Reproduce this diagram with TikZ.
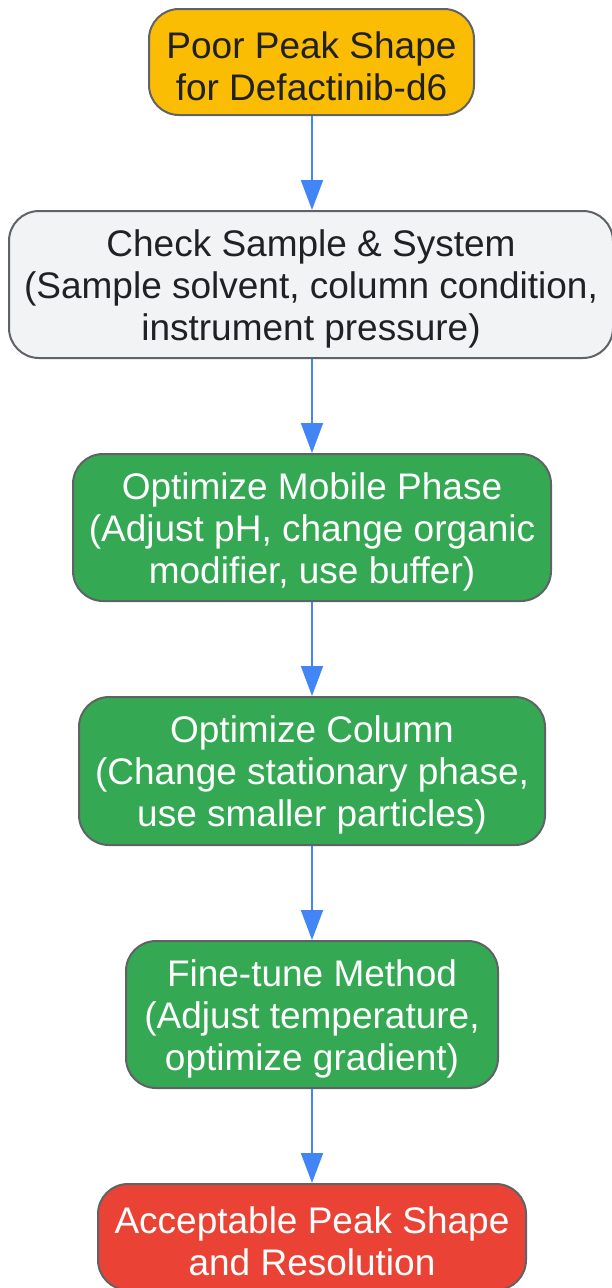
\documentclass[tikz,border=0pt]{standalone}
\usepackage{fontspec}
\setmainfont{Liberation Sans}
\usetikzlibrary{arrows.meta}
\definecolor{gborder}{HTML}{5F6368}
\definecolor{gyellow}{HTML}{FBBC04}
\definecolor{ggrey}{HTML}{F1F3F4}
\definecolor{ggreen}{HTML}{34A853}
\definecolor{gred}{HTML}{EA4335}
\definecolor{gblue}{HTML}{4285F4}
\definecolor{gtext}{HTML}{202124}
\newcommand{\lift}{\rule{0pt}{35pt}}
\tikzset{
  box/.style={draw=gborder, line width=2pt, rounded corners=30pt, align=center,
    inner sep=0pt, font=\fontsize{37}{42}\selectfont},
  flow/.style={draw=gblue, line width=2pt, -{Triangle[length=30pt,width=22pt]}}
}
\begin{document}
\begin{tikzpicture}[x=1pt,y=-1pt]
\useasboundingbox (0,0) rectangle (612,1288);
\node[box, fill=gyellow, text=gtext, minimum width=325pt, minimum height=106pt] (n1) at (311.5,62) {\lift Poor Peak Shape\\for Defactinib-d6};
\node[box, fill=ggrey, text=gtext, minimum width=604pt, minimum height=147pt] (n2) at (311,284.5) {\lift Check Sample \& System\\(Sample solvent, column condition,\\instrument pressure)};
\node[box, fill=ggreen, text=white, minimum width=478pt, minimum height=147pt] (n3) at (312,527.5) {\lift Optimize Mobile Phase\\(Adjust pH, change organic\\modifier, use buffer)};
\node[box, fill=ggreen, text=white, minimum width=466pt, minimum height=148pt] (n4) at (312,771) {\lift Optimize Column\\(Change stationary phase,\\use smaller particles)};
\node[box, fill=ggreen, text=white, minimum width=372pt, minimum height=147pt] (n5) at (312,1014.5) {\lift Fine-tune Method\\(Adjust temperature,\\optimize gradient)};
\node[box, fill=gred, text=white, minimum width=428pt, minimum height=106pt] (n6) at (312,1237) {\lift Acceptable Peak Shape\\and Resolution};
\draw[flow] (n1.south -| 312,0) -- (n2.north -| 312,0);
\draw[flow] (n2.south -| 312,0) -- (n3.north);
\draw[flow] (n3.south) -- (n4.north);
\draw[flow] (n4.south) -- (n5.north);
\draw[flow] (n5.south) -- (n6.north);
\end{tikzpicture}
\end{document}
